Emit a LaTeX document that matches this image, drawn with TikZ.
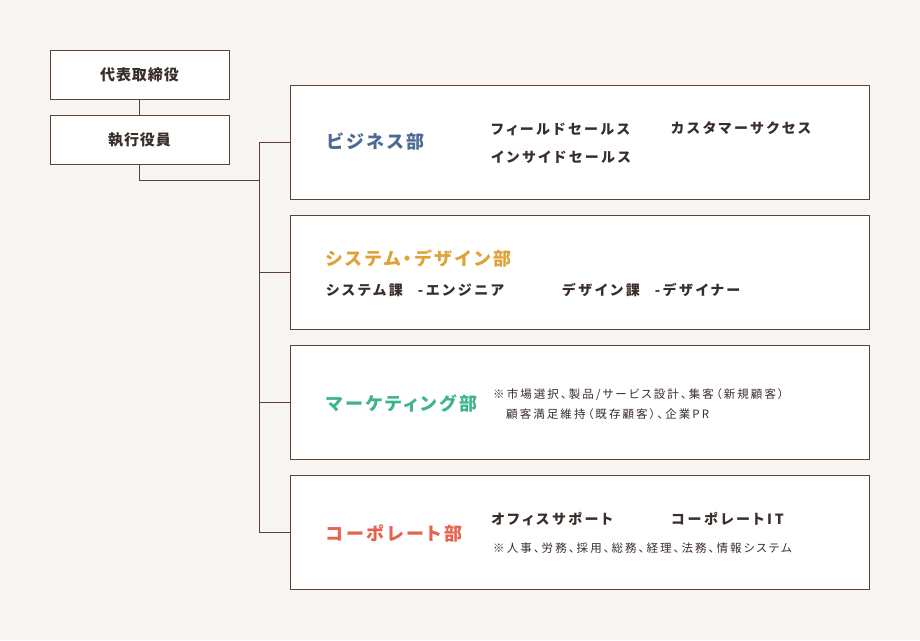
\documentclass[tikz,border=0pt]{standalone}
\usepackage{fontspec}
\usetikzlibrary{positioning}
\newfontfamily\jp[LetterSpace=6]{Noto Sans CJK JP}
\newfontfamily\jphead[LetterSpace=15,RawFeature=+palt]{Noto Sans CJK JP}
\newfontfamily\jpsub[LetterSpace=20,RawFeature=+palt]{Noto Sans CJK JP}
\newfontfamily\jpnote[LetterSpace=18,RawFeature=+palt]{Noto Sans CJK JP}
\definecolor{bg}{HTML}{F8F6F2}
\definecolor{ln}{HTML}{5E4037}
\definecolor{ink}{HTML}{3A2E2A}
\definecolor{cbiz}{HTML}{4D6A94}
\definecolor{csys}{HTML}{E0A136}
\definecolor{cmkt}{HTML}{3DB48A}
\definecolor{ccorp}{HTML}{E8604E}
\tikzset{
  topbox/.style={draw=ln,line width=1pt,fill=white,minimum width=179pt,minimum height=49pt,inner sep=0pt,text=ink,font=\jp\bfseries\fontsize{15}{17}\selectfont},
  deptbox/.style={draw=ln,line width=1pt,fill=white,minimum width=579pt,minimum height=114pt,inner sep=0pt},
  dname/.style={anchor=west,inner sep=0pt,font=\jphead\bfseries\fontsize{18}{20}\selectfont},
  subitem/.style={anchor=west,inner sep=0pt,text=ink,font=\jpsub\bfseries\fontsize{14}{16}\selectfont},
  notetext/.style={anchor=west,inner sep=0pt,text=ink,font=\jpnote\fontsize{11.5}{13}\selectfont},
  ln/.style={draw=ln,line width=1pt},
}
\begin{document}
\begin{tikzpicture}[x=1pt,y=-1pt]
\fill[bg] (0,0) rectangle (920,640);
\useasboundingbox (0,0) rectangle (920,640);
% executives
\node[topbox] (ceo) at (139.5,74.5) {代表取締役};
\node[topbox,below=15pt of ceo] (exec) {執行役員};
% departments
\node[deptbox] (biz) at (579.5,142) {};
\node[deptbox,below=15pt of biz] (sys) {};
\node[deptbox,below=15pt of sys] (mkt) {};
\node[deptbox,below=15pt of mkt] (corp) {};
% connectors
\coordinate (trunk) at (260,180);
\draw[ln] (ceo) -- (exec);
\draw[ln] (exec.south) |- (trunk);
\draw[ln] (biz.west) -- ++(-30,0) |- (corp.west);
\draw[ln] (sys.west) -- ++(-30,0);
\draw[ln] (mkt.west) -- ++(-30,0);
% business
\node[dname,text=cbiz] (bizname) at (327,142) {ビジネス部};
\node[subitem] (field) at (491,129) {フィールドセールス};
\node[subitem] (inside) at (491,157) {インサイドセールス};
\node[subitem] (success) at (671,128) {カスタマーサクセス};
% system / design
\node[dname,text=csys] (sysname) at (326,258) {システム・デザイン部};
\node[subitem] (syssec) at (326,290) {システム課\hspace{15pt}-エンジニア};
\node[subitem] (dessec) at (562,290) {デザイン課\hspace{15pt}-デザイナー};
% marketing
\node[dname,text=cmkt] (mktname) at (326,403) {マーケティング部};
\node[notetext] (mktnote1) at (493,395) {※市場選択、製品/サービス設計、集客（新規顧客）};
\node[notetext] (mktnote2) at (506,414) {顧客満足維持（既存顧客）、企業PR};
% corporate
\node[dname,text=ccorp] (corpname) at (326,533) {コーポレート部};
\node[subitem] (office) at (491,519) {オフィスサポート};
\node[subitem] (corpit) at (671,519) {コーポレートIT};
\node[notetext] (corpnote) at (493,548) {※人事、労務、採用、総務、経理、法務、情報システム};
\end{tikzpicture}
\end{document}
